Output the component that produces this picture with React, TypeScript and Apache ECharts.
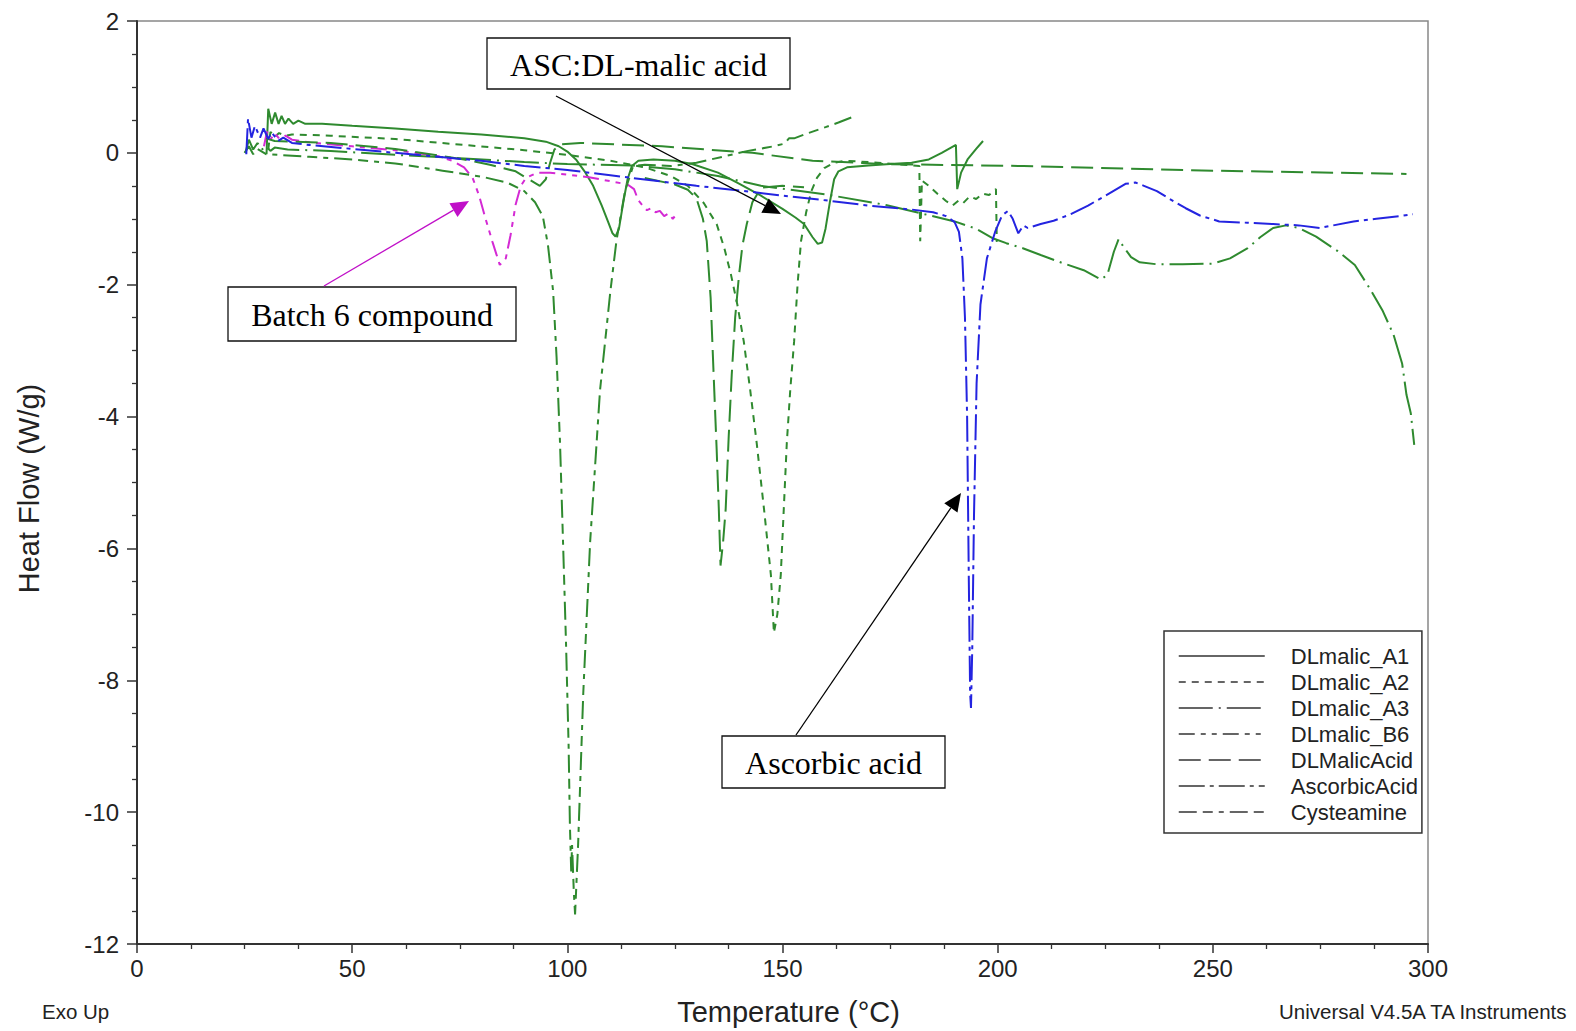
import React, { useEffect, useRef } from "react";
import * as echarts from "echarts";

type Pt = [number, number | string];

// ---- Data (Temperature °C, Heat Flow W/g) ----
const seriesNames = [
  "DLmalic_A1",
  "DLmalic_A2",
  "DLmalic_A3",
  "DLmalic_B6",
  "DLMalicAcid",
  "AscorbicAcid",
  "Cysteamine",
];

const dlmalicA1: Pt[] = [
  [30.1, -0.02], [30.5, 0.67], [31.3, 0.44], [32.1, 0.61], [32.9, 0.44], [33.6, 0.56], [34.4, 0.44],
  [35.2, 0.52], [36.3, 0.44], [37.5, 0.49], [39.1, 0.44], [43, 0.44], [50, 0.41], [60, 0.37], [70, 0.32],
  [80, 0.28], [90, 0.22], [95, 0.17], [98, 0.1], [100, 0.02], [102, -0.1], [104, -0.28], [106, -0.5],
  [108, -0.8], [109.5, -1.05], [110.5, -1.22], [111.2, -1.27], [112, -1.15], [113, -0.75], [114, -0.4],
  [115, -0.2], [116.5, -0.12], [120, -0.1], [125, -0.12], [129, -0.17], [135, -0.3], [140, -0.47],
  [145, -0.65], [150, -0.85], [153, -0.98], [155, -1.08], [157, -1.28], [158.2, -1.38], [159.2, -1.36],
  [160, -1.15], [161, -0.75], [162, -0.4], [163, -0.28], [165, -0.22], [170, -0.19], [175, -0.17],
  [180, -0.15], [184, -0.1], [187, 0.0], [190.3, 0.12], [190.6, -0.55], [191.5, -0.3], [193, -0.1],
  [195, 0.06], [196.6, 0.18],
];

const dlmalicA2: Pt[] = [
  [30.5, 0.05], [31, 0.32], [32, 0.24], [33, 0.3], [34.5, 0.26], [36, 0.28], [45, 0.26], [60, 0.21],
  [76, 0.12], [90, 0.04], [100, -0.03], [110, -0.12], [118, -0.22], [124, -0.35], [128, -0.5],
  [131.7, -0.76], [133, -0.9], [134.7, -1.08], [136.5, -1.45], [138, -1.84], [139.5, -2.3], [141, -2.86],
  [142.5, -3.6], [144, -4.4], [145.7, -5.4], [147.3, -6.4], [148, -7.28], [148.8, -7.0], [149.6, -6.4],
  [150.3, -5.4], [151, -4.4], [151.8, -3.6], [152.7, -2.86], [153.5, -2.0], [154.3, -1.34], [155.5, -0.9],
  [156.7, -0.58], [158, -0.38], [159.7, -0.23], [162, -0.15], [164.4, -0.12], [170, -0.14], [176, -0.17],
  [181.8, -0.2], [182, -1.34], [182.4, -0.42], [184, -0.5], [186, -0.62], [188, -0.73], [189.5, -0.8],
  [191, -0.72], [192, -0.76], [193.5, -0.66], [195, -0.7], [196.5, -0.62], [198, -0.64], [199.6, -0.55],
  [199.8, -1.35],
];

const dlmalicA3: Pt[] = [
  [25.2, 0.0], [26, 0.2], [27, 0.05], [28, 0.15], [29, 0.05], [30, 0.1], [31, 0.03], [32, 0.08],
  [35, 0.05], [45, 0.03], [60, -0.03], [75, -0.08], [90, -0.14], [100, -0.17], [115, -0.19], [125, -0.25],
  [135, -0.35], [145, -0.5], [160, -0.63], [174, -0.79], [183, -0.93], [190, -1.04], [195, -1.15],
  [199, -1.3], [202, -1.37], [206, -1.45], [210, -1.55], [215, -1.67], [220, -1.78], [224, -1.92],
  [225.5, -1.85], [227, -1.5], [228.1, -1.31], [229.5, -1.45], [231, -1.58], [233, -1.66], [237, -1.69],
  [243, -1.69], [250, -1.68], [254, -1.6], [258, -1.45], [261, -1.28], [264, -1.14], [267, -1.1],
  [270, -1.14], [274, -1.27], [279, -1.49], [283, -1.7], [286.5, -2.06], [289.5, -2.4], [292, -2.76],
  [294, -3.2], [295, -3.67], [296, -3.95], [296.8, -4.43],
];

const dlmalicB6: Pt[] = [
  [29.5, 0.1], [30.2, 0.32], [31, 0.2], [32, 0.3], [33, 0.22], [34.5, 0.26], [36, 0.2], [40, 0.16],
  [50, 0.1], [60, 0.04], [70, -0.05], [73.3, -0.12], [76, -0.22], [78, -0.38], [79.5, -0.65], [81, -1.0],
  [82.6, -1.35], [84.3, -1.7], [85.7, -1.6], [86.8, -1.25], [88, -0.78], [89.2, -0.5], [90.4, -0.38],
  [93, -0.3], [96, -0.3], [100, -0.33], [105, -0.37], [110, -0.43], [114, -0.48], [115.5, -0.55],
  [116.5, -0.72], [117.5, -0.8], [118.5, -0.87], [119.5, -0.84], [120.5, -0.9], [121.5, -0.88],
  [122.5, -0.96], [123.5, -0.92], [124.5, -1.0], [125, -0.96],
];

const dlMalicAcidUpper: Pt[] = [
  [30, 0.22], [32, 0.18], [45, 0.15], [60, 0.06], [70, -0.04], [76, -0.1], [82, -0.18], [88, -0.28],
  [91, -0.4], [93.6, -0.5], [95, -0.4], [96, -0.15], [97, 0.05], [98.5, 0.13], [103, 0.15], [122, 0.1],
  [143, 0.0], [157, -0.12], [174, -0.17], [206, -0.2], [250, -0.27], [295, -0.32],
];

const dlMalicAcidMelt: Pt[] = [
  [118, -0.38], [125, -0.48], [128, -0.56], [130, -0.69], [131.5, -1.0], [132.4, -1.34], [133.3, -2.2],
  [134, -3.37], [134.7, -4.5], [135.2, -5.4], [135.6, -6.26], [136.2, -5.9], [136.8, -5.4], [137.5, -4.3],
  [138.2, -3.37], [139, -2.5], [139.9, -1.85], [140.7, -1.4], [141.7, -1.08], [143, -0.75], [145, -0.53],
  [150, -0.5], [155, -0.52],
];

const ascorbicAcid: Pt[] = [
  [25.4, -0.02], [25.8, 0.52], [26.6, 0.23], [27.4, 0.41], [28.6, 0.23], [29.4, 0.37], [30.5, 0.21],
  [31.3, 0.31], [32.8, 0.18], [34, 0.23], [36, 0.15], [40, 0.12], [50, 0.06], [60, 0.0], [70, -0.06],
  [80, -0.12], [90, -0.2], [100, -0.26], [110, -0.34], [120, -0.42], [130, -0.5], [140, -0.57],
  [150, -0.65], [160, -0.72], [170, -0.8], [180, -0.86], [185, -0.9], [188, -0.96], [190, -1.05],
  [191, -1.2], [191.8, -1.6], [192.4, -2.5], [192.9, -4.0], [193.3, -6.5], [193.6, -8.2], [193.8, -8.42],
  [194.1, -7.5], [194.5, -5.5], [195.1, -3.5], [196, -2.3], [197.5, -1.6], [199.4, -1.2], [201, -0.95],
  [202.4, -0.88], [203.5, -1.0], [204.8, -1.22], [206, -1.1], [207, -1.14], [210, -1.08], [213, -1.03],
  [217, -0.93], [221, -0.8], [225, -0.65], [229.7, -0.47], [232, -0.45], [234, -0.5], [237, -0.58],
  [240, -0.7], [243.7, -0.84], [247, -0.95], [251.5, -1.04], [258, -1.06], [264, -1.08], [270, -1.1],
  [274.8, -1.14], [278, -1.1], [282.7, -1.04], [288, -1.0], [293.5, -0.96], [296.5, -0.93],
];

const cysteamine: Pt[] = [
  [25, 0.0], [26, 0.1], [27, -0.02], [28, 0.06], [30, -0.02], [40, -0.06], [50, -0.1], [60, -0.16],
  [71, -0.27], [80, -0.36], [86, -0.45], [90, -0.58], [92.5, -0.75], [94.3, -0.96], [95.5, -1.4],
  [96.7, -2.1], [97.5, -3.1], [98.3, -4.4], [99, -5.9], [99.7, -7.45], [100.3, -9.0], [100.6, -10.2],
  [100.9, -10.9], [101.1, -10.5], [101.5, -11.2], [101.8, -11.55], [102.5, -10.5], [103.7, -8.2],
  [105.3, -5.9], [107.6, -3.6], [110, -2.1], [111.4, -1.34], [113.4, -0.58], [115.3, -0.2], [118, -0.18],
  [124, -0.2], [130, -0.15], [136, -0.06], [142, 0.03], [148, 0.1], [150.5, 0.14], [151.5, 0.22],
  [152.7, 0.22], [156, 0.3], [160, 0.39], [163, 0.46], [166.5, 0.55],
];

const GREEN = "#2f8a2f";
const BLUE = "#2424e0";
const MAGENTA = "#d42ad4";
const FONT = "Liberation Sans, Arial, sans-serif";
const SERIF = "Liberation Serif, Times New Roman, serif";

const seriesData: Pt[][] = [
  dlmalicA1,
  dlmalicA2,
  dlmalicA3,
  dlmalicB6,
  [...dlMalicAcidUpper, [296, "-"], ...dlMalicAcidMelt],
  ascorbicAcid,
  cysteamine,
];
const seriesColors = [GREEN, GREEN, GREEN, MAGENTA, GREEN, BLUE, GREEN];
const seriesDash: any[] = [
  "solid",
  [7, 6],
  [34, 6, 2, 6],
  [16, 6, 5, 6, 5, 6],
  [22, 8],
  [26, 5, 4, 5],
  [18, 6, 10, 6, 5, 6],
];

function arrow(x1: number, y1: number, x2: number, y2: number, color: string) {
  const a = Math.atan2(y2 - y1, x2 - x1);
  const L = 18;
  const W = 8;
  const bx = x2 - L * Math.cos(a);
  const by = y2 - L * Math.sin(a);
  return [
    { type: "line", z: 100, shape: { x1, y1, x2: bx, y2: by }, style: { stroke: color, lineWidth: 1.3 } },
    {
      type: "polygon",
      z: 100,
      shape: {
        points: [
          [x2, y2],
          [bx - W * Math.sin(a), by + W * Math.cos(a)],
          [bx + W * Math.sin(a), by - W * Math.cos(a)],
        ],
      },
      style: { fill: color },
    },
  ];
}

function labelBox(x: number, y: number, w: number, h: number, text: string) {
  return [
    { type: "rect", z: 100, shape: { x, y, width: w, height: h }, style: { fill: "#fff", stroke: "#111", lineWidth: 1.3 } },
    {
      type: "text",
      z: 101,
      x: x + w / 2,
      y: y + h / 2 + 1,
      style: { text, font: `32px ${SERIF}`, fill: "#000", align: "center", verticalAlign: "middle" },
    },
  ];
}

export default function App() {
  const ref = useRef<HTMLDivElement>(null);
  useEffect(() => {
    if (!ref.current) return;
    const chart = echarts.init(ref.current, undefined, { renderer: "svg" });
    const option: any = {
      animation: false,
      backgroundColor: "#fff",
      grid: { left: 137, right: 148, top: 21, bottom: 85, show: true, borderColor: "#888", borderWidth: 1.5 },
      xAxis: {
        type: "value",
        min: 0,
        max: 300,
        interval: 50,
        name: "Temperature (°C)",
        nameLocation: "middle",
        nameGap: 53,
        nameTextStyle: { fontSize: 29, fontFamily: FONT, color: "#222", padding: [0, 0, 0, 12] },
        axisLine: { show: true, onZero: false, lineStyle: { color: "#333", width: 2 } },
        axisTick: { show: true, length: 9, lineStyle: { color: "#333", width: 1.5 } },
        minorTick: { show: true, splitNumber: 4, length: 5, lineStyle: { color: "#333", width: 1.3 } },
        splitLine: { show: false },
        axisLabel: { fontSize: 24, fontFamily: FONT, color: "#222", margin: 12 },
      },
      yAxis: {
        type: "value",
        min: -12,
        max: 2,
        interval: 2,
        name: "Heat Flow (W/g)",
        nameLocation: "middle",
        nameGap: 94,
        nameRotate: 90,
        nameTextStyle: { fontSize: 29, fontFamily: FONT, color: "#222", padding: [0, 12, 0, 0] },
        axisLine: { show: true, onZero: false, lineStyle: { color: "#333", width: 2 } },
        axisTick: { show: true, length: 10, lineStyle: { color: "#333", width: 1.5 } },
        minorTick: { show: true, splitNumber: 4, length: 5, lineStyle: { color: "#333", width: 1.3 } },
        splitLine: { show: false },
        axisLabel: { fontSize: 24, fontFamily: FONT, color: "#222", margin: 18 },
      },
      legend: {
        orient: "vertical",
        left: 1164,
        top: 631,
        padding: [14, 4, 10, 14],
        itemWidth: 86,
        itemHeight: 14,
        itemGap: 4,
        selectedMode: false,
        borderColor: "#333",
        borderWidth: 1.5,
        backgroundColor: "#fff",
        lineStyle: { color: "#333", width: 1.5 },
        itemStyle: { opacity: 0, color: "rgba(0,0,0,0)", borderWidth: 0 },
        textStyle: { fontSize: 22, fontFamily: FONT, color: "#222", lineHeight: 22, padding: [0, 0, 0, 21] },
        data: seriesNames,
      },
      series: seriesNames.map((name, i) => ({
        name,
        type: "line",
        data: seriesData[i],
        symbol: "none",
        showSymbol: false,
        connectNulls: false,
        silent: true,
        itemStyle: { color: seriesColors[i] },
        lineStyle: { color: seriesColors[i], width: 2, type: seriesDash[i] },
        z: i === 5 ? 4 : 3,
      })),
      graphic: [
        ...labelBox(487, 38, 303, 51, "ASC:DL-malic acid"),
        ...labelBox(228, 287, 288, 54, "Batch 6 compound"),
        ...labelBox(722, 736, 223, 52, "Ascorbic acid"),
        ...arrow(556, 96, 781, 214, "#000"),
        ...arrow(324, 286, 469, 201, "#c010c8"),
        ...arrow(796, 735, 961, 493, "#000"),
        { type: "text", x: 42, y: 1011, style: { text: "Exo Up", font: `20.5px ${FONT}`, fill: "#222", verticalAlign: "middle" } },
        {
          type: "text",
          x: 1279,
          y: 1011,
          style: { text: "Universal V4.5A TA Instruments", font: `20.5px ${FONT}`, fill: "#222", verticalAlign: "middle" },
        },
      ],
    };
    chart.setOption(option);
    return () => chart.dispose();
  }, []);
  return <div ref={ref} style={{ position: "fixed", left: 0, top: 0, width: 1576, height: 1031, background: "#fff" }} />;
}
